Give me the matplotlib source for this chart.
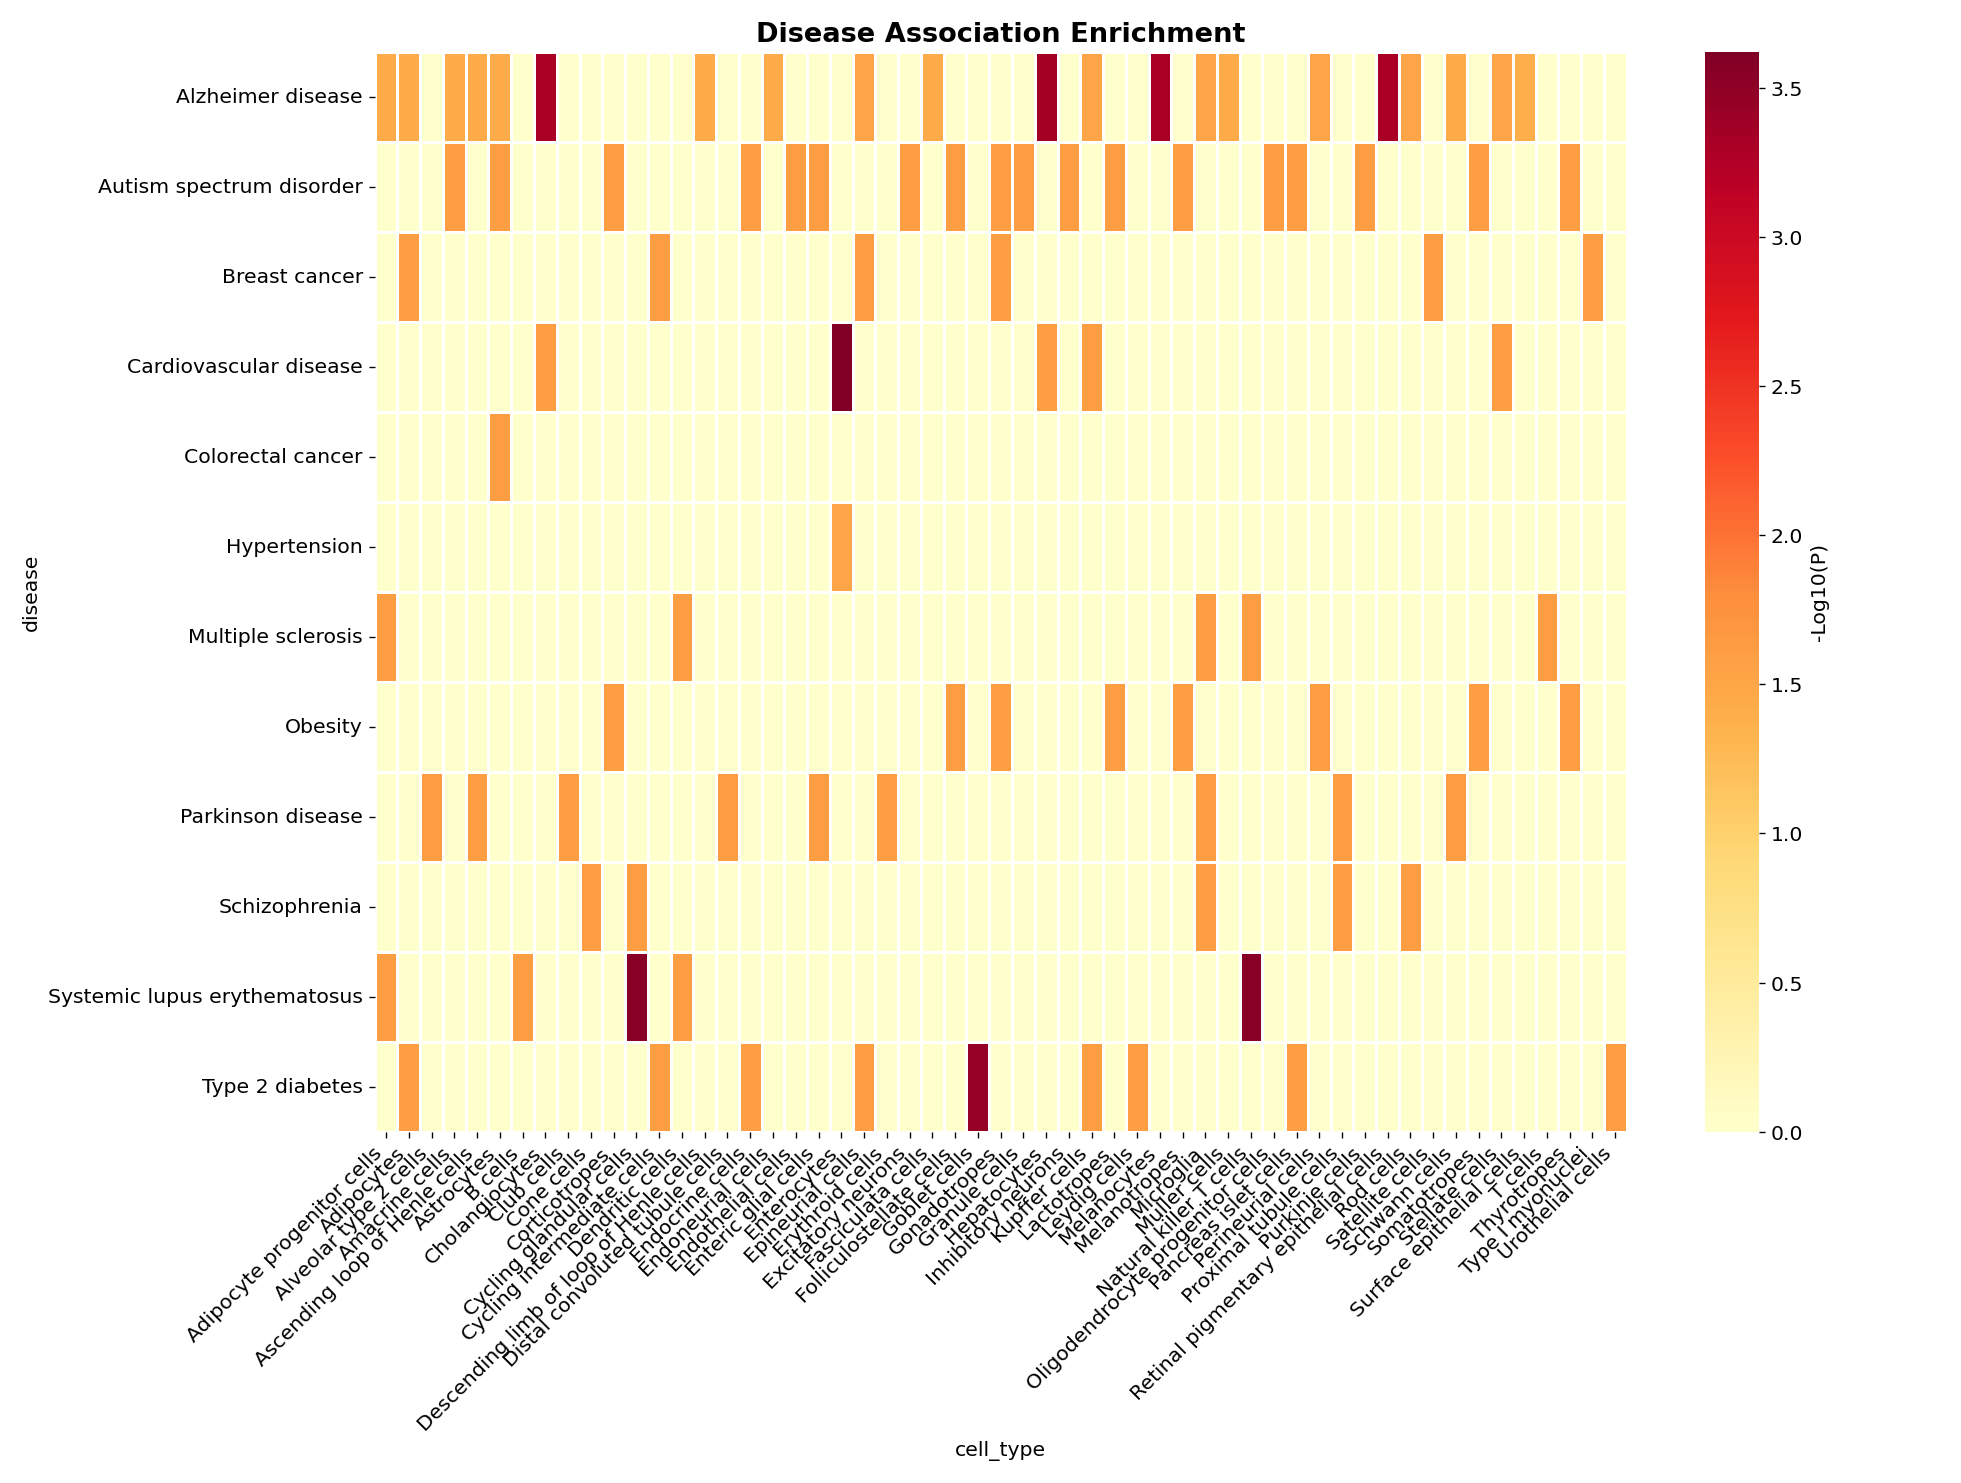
import numpy as np
import pandas as pd
import matplotlib
matplotlib.use("Agg")
import matplotlib.pyplot as plt
import seaborn as sns

diseases = ["Alzheimer disease", "Autism spectrum disorder", "Breast cancer",
            "Cardiovascular disease", "Colorectal cancer", "Hypertension",
            "Multiple sclerosis", "Obesity", "Parkinson disease", "Schizophrenia",
            "Systemic lupus erythematosus", "Type 2 diabetes"]

cell_types = ["Adipocyte progenitor cells", "Adipocytes", "Alveolar type 2 cells",
              "Amacrine cells", "Ascending loop of Henle cells", "Astrocytes", "B cells",
              "Cholangiocytes", "Club cells", "Cone cells", "Corticotropes",
              "Cycling glandular cells", "Cycling intermediate cells", "Dendritic cells",
              "Descending limb of loop of Henle cells", "Distal convoluted tubule cells",
              "Endocrine cells", "Endoneurial cells", "Endothelial cells",
              "Enteric glial cells", "Enterocytes", "Epineurial cells", "Erythroid cells",
              "Excitatory neurons", "Fasciculata cells", "Folliculostellate cells",
              "Goblet cells", "Gonadotropes", "Granule cells", "Hepatocytes",
              "Inhibitory neurons", "Kupffer cells", "Lactotropes", "Leydig cells",
              "Melanocytes", "Melanotropes", "Microglia", "Muller cells",
              "Natural killer T cells", "Oligodendrocyte progenitor cells",
              "Pancreas islet cells", "Perineurial cells", "Proximal tubule cells",
              "Purkinje cells", "Retinal pigmentary epithelial cells", "Rod cells",
              "Satellite cells", "Schwann cells", "Somatotropes", "Stellate cells",
              "Surface epithelial cells", "T cells", "Thyrotropes", "Type I myonuclei",
              "Urothelial cells"]

# significant cells per disease: (cell type index, -log10 P)
alzheimer = [(0, 1.45), (1, 1.45), (3, 1.45), (4, 1.45), (5, 1.45), (7, 3.3), (14, 1.45),
             (17, 1.45), (21, 1.5), (24, 1.45), (29, 3.35), (31, 1.5), (34, 3.3), (36, 1.5),
             (37, 1.45), (41, 1.5), (44, 3.3), (45, 1.5), (47, 1.45), (49, 1.5), (50, 1.4)]
autism = [(3, 1.6), (5, 1.6), (10, 1.6), (16, 1.6), (18, 1.6), (19, 1.6), (23, 1.6),
          (25, 1.6), (27, 1.6), (28, 1.6), (30, 1.6), (32, 1.6), (35, 1.6), (39, 1.6),
          (40, 1.6), (43, 1.6), (48, 1.6), (52, 1.6)]
breast = [(1, 1.6), (12, 1.6), (21, 1.6), (27, 1.6), (46, 1.6), (53, 1.6)]
cardio = [(7, 1.6), (20, 3.6), (29, 1.6), (31, 1.6), (49, 1.6)]
colorectal = [(5, 1.6)]
hypertension = [(20, 1.5)]
ms = [(0, 1.6), (13, 1.6), (36, 1.6), (38, 1.6), (51, 1.6)]
obesity = [(10, 1.6), (25, 1.6), (27, 1.6), (32, 1.6), (35, 1.6), (41, 1.6), (48, 1.6), (52, 1.6)]
parkinson = [(2, 1.6), (4, 1.6), (8, 1.6), (15, 1.6), (19, 1.6), (22, 1.6), (36, 1.6),
             (42, 1.6), (47, 1.6)]
schizo = [(9, 1.6), (11, 1.6), (36, 1.6), (42, 1.6), (45, 1.6)]
sle = [(0, 1.6), (6, 1.6), (11, 3.55), (13, 1.6), (38, 3.55)]
t2d = [(1, 1.6), (12, 1.6), (16, 1.6), (21, 1.6), (26, 3.45), (31, 1.6), (33, 1.6),
       (40, 1.6), (54, 1.6)]

rows = [alzheimer, autism, breast, cardio, colorectal, hypertension, ms, obesity,
        parkinson, schizo, sle, t2d]

mat = np.zeros((len(diseases), len(cell_types)))
for r, hits in enumerate(rows):
    for c, v in hits:
        mat[r, c] = v

df = pd.DataFrame(mat, index=diseases, columns=cell_types)
df.index.name = "disease"
df.columns.name = "cell_type"

plt.rcParams["font.size"] = 12
fig, ax = plt.subplots(figsize=(16, 12.1), dpi=122.6)
sns.heatmap(df, cmap="YlOrRd", linewidths=1.5, linecolor="white", vmin=0, vmax=3.62,
            cbar_kws={"label": "-Log10(P)"}, ax=ax)
ax.set_title("Disease Association Enrichment", fontsize=16, fontweight="bold")
ax.set_xticks(np.arange(len(cell_types)) + 0.5)
ax.set_xticklabels(cell_types, rotation=45, ha="right", fontsize=12)
ax.set_yticklabels(diseases, rotation=0, fontsize=12)
plt.tight_layout()
plt.savefig("out.png")
